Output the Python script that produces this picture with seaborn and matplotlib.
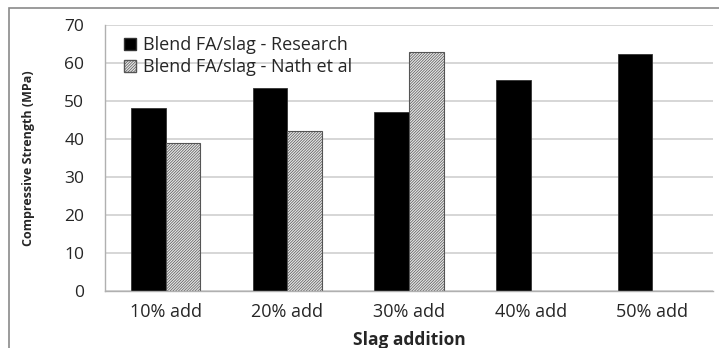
import matplotlib
matplotlib.use("Agg")
import matplotlib.pyplot as plt
import seaborn as sns
import pandas as pd
import numpy as np
from matplotlib.patches import Patch, Rectangle

categories = ["10% add", "20% add", "30% add", "40% add", "50% add"]
research = [48.2, 53.4, 47.2, 55.5, 62.5]
nath = [38.9, 42.1, 63.0, np.nan, np.nan]
series_names = ["Blend FA/slag - Research", "Blend FA/slag - Nath et al"]

df = pd.DataFrame({
    "cat": categories * 2,
    "value": research + nath,
    "series": [series_names[0]] * 5 + [series_names[1]] * 5,
})

sns.set_style("white")
plt.rcParams["font.family"] = ["Open Sans", "DejaVu Sans"]
plt.rcParams["hatch.linewidth"] = 0.5

fig = plt.figure(figsize=(7.19, 3.48), dpi=100)
ax = fig.add_axes([0.146, 0.164, 0.846, 0.764])

sns.barplot(data=df, x="cat", y="value", hue="series", order=categories,
            hue_order=series_names, palette=["black", "#d4d4d4"],
            width=0.57, gap=0, saturation=1, errorbar=None, ax=ax, legend=False)

for bar in ax.containers[0]:
    bar.set_edgecolor("#333333")
    bar.set_linewidth(0.6)
for bar in ax.containers[1]:
    bar.set_facecolor("#e6e6e6")
    bar.set_edgecolor("#555555")
    bar.set_hatch("////////////")
    bar.set_linewidth(0.8)

ax.set_ylim(0, 70)
ax.set_yticks(range(0, 71, 10))
ax.yaxis.grid(True, color="#d0d0d0", linewidth=1.2)
ax.set_axisbelow(True)
for side in ["top", "right"]:
    ax.spines[side].set_visible(False)
for side in ["left", "bottom"]:
    ax.spines[side].set_color("#b0b0b0")
    ax.spines[side].set_linewidth(1.0)
ax.tick_params(axis="y", length=6, color="#b0b0b0", labelsize=12.5, pad=9)
ax.tick_params(axis="x", length=0, labelsize=13, pad=9)

ax.set_xlabel("Slag addition", fontsize=12.5, fontweight="bold")
ax.xaxis.set_label_coords(0.5, -0.152)
ax.set_ylabel("Compressive Strength (MPa)", fontsize=9, fontweight="bold")
ax.yaxis.set_label_coords(-0.126, 0.5)
ax.yaxis.label.set_verticalalignment("center")

handles = [
    Patch(facecolor="black", edgecolor="#333333", label=series_names[0]),
    Patch(facecolor="#e6e6e6", edgecolor="#555555", hatch="////////////", label=series_names[1]),
]
ax.legend(handles=handles, loc="upper left", bbox_to_anchor=(0.02, 0.985),
          frameon=False, fontsize=13, handlelength=0.65, handleheight=0.65,
          handletextpad=0.4, labelspacing=0.2, borderaxespad=0)

# outer chart border like the spreadsheet frame
fig.patches.append(Rectangle((9 / 719, -0.1), 1.2, 1 - 8 / 348 + 0.1,
                             transform=fig.transFigure, fill=False,
                             edgecolor="#8a8a8a", linewidth=1.2))

fig.savefig("out.png", dpi=100)
